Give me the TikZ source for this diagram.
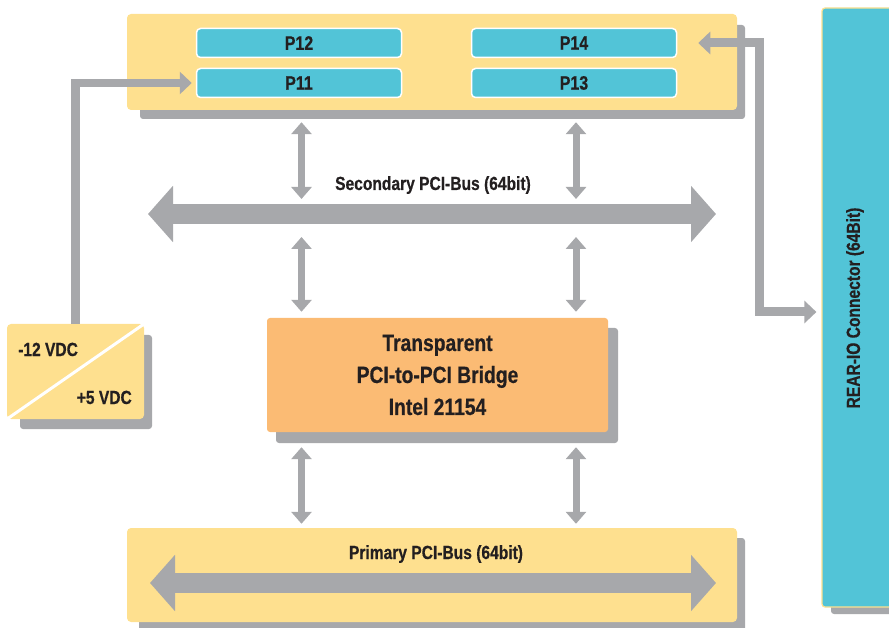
\documentclass[tikz,border=0pt]{standalone}
\usepackage{fontspec}
\setmainfont{Liberation Sans}[FakeStretch=0.82, BoldFeatures={FakeBold=0.6}]
\usetikzlibrary{arrows.meta}
\definecolor{yel}{HTML}{FEE08F}
\definecolor{cya}{HTML}{52C4D7}
\definecolor{ora}{HTML}{FBBB74}
\definecolor{gry}{HTML}{A7A8AB}
\definecolor{ink}{HTML}{231F20}
\tikzset{
  bt/.tip={Triangle[width=55pt,length=25pt]},
  st/.tip={Triangle[width=22pt,length=12pt]},
  vt/.tip={Triangle[width=20pt,length=12pt]},
  shadowrect/.style={fill=gry, rounded corners=3pt},
  ybox/.style={fill=yel, rounded corners=4pt, inner sep=0pt},
  pbox/.style={fill=cya, draw=white, line width=1.5pt, rounded corners=4pt,
    minimum width=205pt, minimum height=29pt, inner sep=0pt,
    font=\fontsize{19.5}{20}\selectfont\bfseries, text=ink},
  lab/.style={font=\fontsize{19}{20}\selectfont\bfseries, text=ink, inner sep=0pt},
  garrow/.style={draw=gry, line width=8.5pt},
  busarrow/.style={draw=gry, line width=20pt, arrows={bt-bt}},
  vd/.style={draw=gry, line width=7pt, arrows={vt-vt}}
}
\begin{document}
\begin{tikzpicture}[x=1pt,y=-1pt]
\useasboundingbox (0,0) rectangle (889,628);
% shadows
\fill[shadowrect] (140,25) rectangle (745,119);
\fill[shadowrect] (276,328) rectangle (618,443);
\fill[shadowrect] (139,538) rectangle (745,636);
\fill[shadowrect] (20,335) rectangle (152,429);
\fill[shadowrect] (831,15) rectangle (905,614);
% boxes
\node[ybox, minimum width=610pt, minimum height=96pt] (top) at (432,62) {};
\node[pbox] (P12) at (299,43) {P12};
\node[pbox] (P11) at (299,83) {P11};
\node[pbox] (P14) at (574,43) {P14};
\node[pbox] (P13) at (574,83) {P13};
\node[fill=ora, rounded corners=3pt, minimum width=341pt, minimum height=114pt,
  align=center, font=\fontsize{23.5}{32}\selectfont\bfseries, text=ink] (bridge)
  at (437.5,375) {Transparent\\PCI-to-PCI Bridge\\Intel 21154};
\node[ybox, minimum width=610pt, minimum height=94pt] (prim) at (432,575) {};
\node[ybox, minimum width=137pt, minimum height=95pt] (pwr) at (75.5,371.5) {};
\draw[white, line width=3pt] (pwr.south west) -- (pwr.north east);
\node[lab, anchor=base west] (v12) at (18,356) {-12 VDC};
\node[lab, anchor=base east] (v5) at (132,404) {+5 VDC};
\node[fill=cya, draw=yel, line width=1.2pt, rounded corners=3pt, minimum width=75pt,
  minimum height=599pt, inner sep=0pt] (rear) at (859.5,307.5) {};
\node[lab, rotate=90] (reartxt) at (855,308) {REAR-IO Connector (64Bit)};
% buses
\coordinate (sbL) at (148,214);
\coordinate (sbR) at (716,214);
\coordinate (pbL) at (150,583);
\coordinate (pbR) at (716,583);
\draw[busarrow] (sbL) -- (sbR);
\draw[busarrow] (pbL) -- (pbR);
\node[lab, anchor=base] (slab) at (433,190) {Secondary PCI-Bus (64bit)};
\node[lab, anchor=base] (plab) at (436,559) {Primary PCI-Bus (64bit)};
% vertical arrows
\coordinate (cL) at (301.5,0);
\coordinate (cRr) at (576,0);
\foreach \c in {cL,cRr} {
  \draw[vd, shorten <=12pt, shorten >=15pt] (top.south -| \c) -- (sbL -| \c);
  \draw[vd, shorten <=23pt, shorten >=6pt] (sbL -| \c) -- (bridge.north -| \c);
  \draw[vd, shorten <=15pt, shorten >=4pt] (bridge.south -| \c) -- (prim.north -| \c);
}
% connectors
\draw[garrow, arrows={-st}, shorten >=4pt] (pwr.north) |- (P11.west);
\coordinate (cR) at (759.5,312);
\draw[garrow, line width=9pt, arrows={st-st}, shorten <=21pt, shorten >=5pt]
  (P14.east) -| (cR) -- (rear.west |- cR);
\end{tikzpicture}
\end{document}
